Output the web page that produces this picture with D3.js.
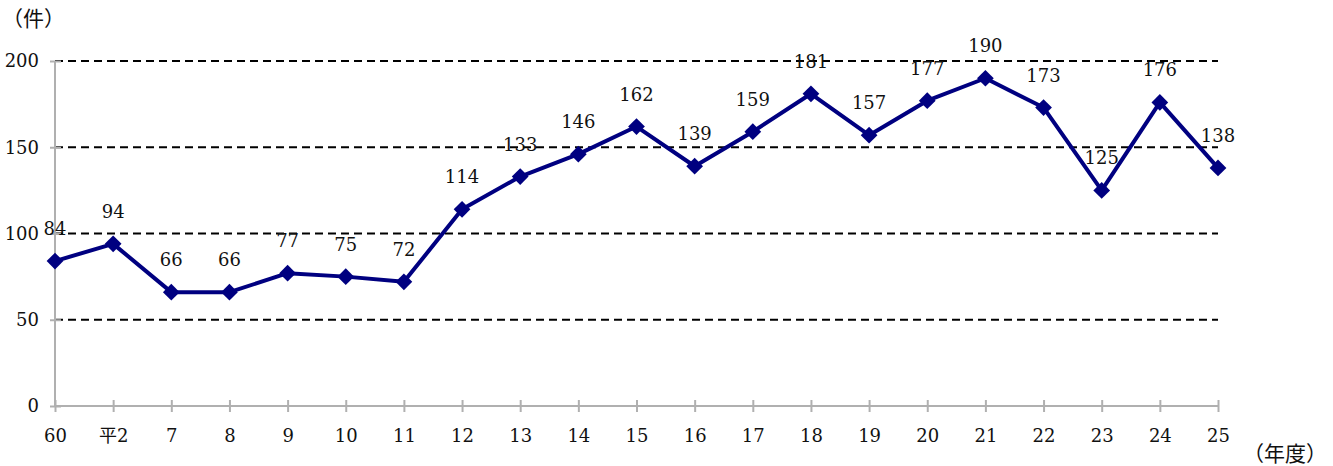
<!DOCTYPE html>
<html>
<head>
<meta charset="utf-8">
<script src="https://cdn.jsdelivr.net/npm/d3@7"></script>
<style>
  body { margin: 0; background: #fff; }
  svg text { font-family: "DejaVu Serif", "Noto Sans CJK JP", serif; fill: #111; }
</style>
</head>
<body>
<div id="graph"></div>
<script>
var years = ['60', '平2', '7', '8', '9', '10', '11', '12', '13', '14', '15',
  '16', '17', '18', '19', '20', '21', '22', '23', '24', '25']
var counts = [84, 94, 66, 66, 77, 75, 72, 114, 133, 146, 162,
  139, 159, 181, 157, 177, 190, 173, 125, 176, 138]
var yTicks = [0, 50, 100, 150, 200]

var width = 1333, height = 466

var svg = d3.select('#graph').append('svg')
  .attr('width', width).attr('height', height)

var x = d3.scalePoint().domain(years).range([55, 1218])
var y = d3.scaleLinear().domain([0, 200]).range([406, 61])

// dashed gridlines
svg.selectAll('line.grid').data(yTicks.filter(d => d > 0)).enter().append('line')
  .attr('class', 'grid')
  .attr('x1', 55).attr('x2', 1218)
  .attr('y1', d => y(d)).attr('y2', d => y(d))
  .attr('stroke', '#000').attr('stroke-width', 1.8)
  .attr('stroke-dasharray', '8,5')

// y axis
var yAxis = d3.axisLeft(y).tickValues(yTicks).tickSize(0).tickPadding(0)
var yg = svg.append('g').attr('transform', 'translate(55,0)').call(yAxis)
yg.select('.domain').remove()
yg.selectAll('.tick text').attr('x', -16).style('font-size', '18px')
yg.selectAll('.tick').append('line')
  .attr('x1', -5).attr('x2', 6).attr('stroke', '#b0b0b0').attr('stroke-width', 2)
svg.append('line').attr('x1', 55).attr('x2', 55).attr('y1', y(200)).attr('y2', y(0))
  .attr('stroke', '#b0b0b0').attr('stroke-width', 2)

// x axis
var xAxis = d3.axisBottom(x).tickSize(0).tickPadding(0)
var xg = svg.append('g').attr('transform', 'translate(0,' + y(0) + ')').call(xAxis)
xg.select('.domain').remove()
xg.selectAll('.tick text').attr('y', 23).style('font-size', '18px')
xg.selectAll('.tick').append('line')
  .attr('y1', -6).attr('y2', 6).attr('stroke', '#b0b0b0').attr('stroke-width', 2)
svg.append('line').attr('x1', 55).attr('x2', 1218).attr('y1', y(0)).attr('y2', y(0))
  .attr('stroke', '#b0b0b0').attr('stroke-width', 2)

// series line
var line = d3.line().x((d, i) => x(years[i])).y(d => y(d))
svg.append('path').datum(counts)
  .attr('d', line)
  .attr('fill', 'none').attr('stroke', '#000080').attr('stroke-width', 4)
  .attr('stroke-linejoin', 'round')

var diamond = d3.symbol().type(d3.symbolSquare).size(140)
svg.selectAll('path.pt').data(counts).enter().append('path')
  .attr('class', 'pt')
  .attr('d', diamond)
  .attr('transform', (d, i) => 'translate(' + x(years[i]) + ',' + y(d) + ') rotate(45)')
  .attr('fill', '#000080')

// value labels
svg.selectAll('text.val').data(counts).enter().append('text')
  .attr('class', 'val')
  .attr('x', (d, i) => x(years[i]))
  .attr('y', d => y(d) - 26)
  .attr('text-anchor', 'middle')
  .style('font-size', '18px')
  .text(d => d)

// unit labels
svg.append('text').attr('x', 2).attr('y', 26).style('font-size', '21px').text('（件）')
svg.append('text').attr('x', 1243).attr('y', 461).style('font-size', '21px').text('（年度）')
</script>
</body>
</html>
